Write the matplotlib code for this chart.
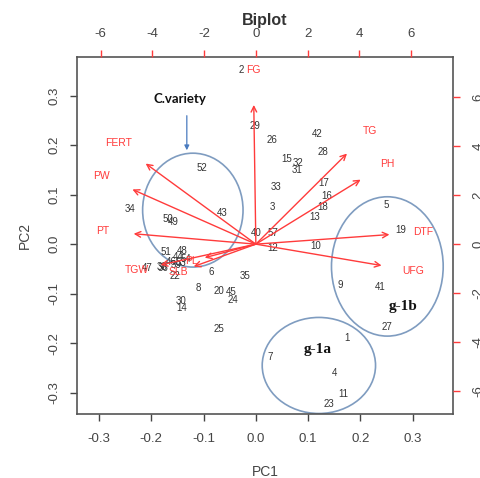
import matplotlib
matplotlib.use('Agg')
import matplotlib.pyplot as plt
from matplotlib.patches import Ellipse
import numpy as np

plt.rcParams['axes.unicode_minus'] = False

# ---- observation scores (PC1, PC2) ----
obs_labels = ['1', '2', '3', '4', '5', '6', '7', '8', '9', '10', '11', '12', '13', '14',
              '15', '16', '17', '18', '19', '20', '22', '23', '24', '25', '26', '27', '28',
              '29', '30', '31', '32', '33', '34', '35', '38', '40', '41', '42', '43', '44',
              '45', '47', '48', '49', '50', '51', '52', '57', '53', '46', '54', '39', '36']
pc1 = [0.175, -0.027, 0.032, 0.151, 0.250, -0.085, 0.028, -0.110, 0.162, 0.115, 0.168, 0.033,
       0.113, -0.142, 0.059, 0.135, 0.130, 0.128, 0.277, -0.070, -0.155, 0.140, -0.043, -0.070,
       0.030, 0.250, 0.128, -0.002, -0.143, 0.078, 0.081, 0.038, -0.241, -0.021, -0.180, 0.001,
       0.237, 0.117, -0.064, -0.149, -0.048, -0.208, -0.140, -0.157, -0.168, -0.172, -0.104,
       0.032, -0.143, -0.161, -0.134, -0.153, -0.178]
pc2 = [-0.190, 0.352, 0.075, -0.260, 0.079, -0.056, -0.228, -0.088, -0.083, -0.004, -0.303,
       -0.007, 0.055, -0.128, 0.171, 0.097, 0.123, 0.075, 0.028, -0.095, -0.065, -0.322, -0.113,
       -0.172, 0.210, -0.168, 0.186, 0.238, -0.115, 0.149, 0.164, 0.115, 0.070, -0.064, -0.046,
       0.022, -0.086, 0.222, 0.063, -0.026, -0.096, -0.048, -0.014, 0.044, 0.051, -0.016, 0.153,
       0.022, -0.038, -0.036, -0.030, -0.042, -0.048]

# ---- variable loadings (label positions, secondary axes units) ----
var_names = ['FG', 'TG', 'PH', 'DTF', 'UFG', 'FERT', 'PW', 'PT', 'TGW', 'SLB', 'PL']
var_x = [-0.1, 4.4, 5.06, 6.45, 6.07, -5.32, -5.96, -5.9, -4.6, -3.0, -2.47]
var_y = [7.1, 4.62, 3.29, 0.49, -1.09, 4.11, 2.79, 0.53, -1.06, -1.14, -0.69]

# ---- group ellipses ----
group_names = ['C.variety', 'g-1b', 'g-1a']
group_cx = [-0.1205, 0.2514, 0.1205]
group_cy = [0.0687, -0.045, -0.245]
group_w = [0.192, 0.2136, 0.2167]
group_h = [0.230, 0.2814, 0.194]

pc1_ticks = [-0.3, -0.2, -0.1, 0.0, 0.1, 0.2, 0.3]
pc2_ticks = [-0.3, -0.2, -0.1, 0.0, 0.1, 0.2, 0.3]
sec_ticks = [-6, -4, -2, 0, 2, 4, 6]

RED = '#ff3b3b'
BLUE = '#7f9cc0'
GREY = '#444444'
ratio = 20.2

fig = plt.figure(figsize=(4.8, 4.78), dpi=100)
pos = [0.1604, 0.1339, 0.7834, 0.7469]
ax = fig.add_axes(pos)
xlim = (-0.342, 0.377)
ylim = (-0.343, 0.378)
ax.set_xlim(*xlim)
ax.set_ylim(*ylim)
ax.set_xticks(pc1_ticks)
ax.set_xticklabels(['%.1f' % t for t in pc1_ticks])
ax.set_yticks(pc2_ticks)
ax.set_yticklabels(['%.1f' % t for t in pc2_ticks], rotation=90, va='center')
ax.tick_params(axis='x', length=5, width=1, color=GREY, labelsize=9.5, labelcolor=GREY, pad=9)
ax.tick_params(axis='y', length=5, width=1, color=GREY, labelsize=9.5, labelcolor=GREY, pad=7)
for s in ax.spines.values():
    s.set_color('#555555')
    s.set_linewidth(1.2)
ax.set_xlabel('PC1', fontsize=10, color=GREY, labelpad=14, family='Liberation Sans')
ax.set_ylabel('PC2', fontsize=10, color=GREY, labelpad=12, family='Liberation Sans')
for lab in ax.get_xticklabels() + ax.get_yticklabels():
    lab.set_family('Liberation Sans')

for lab, x, y in zip(obs_labels, pc1, pc2):
    ax.text(x, y, lab, fontsize=7, color='#333333', ha='center', va='center',
            family='Liberation Sans')

for cx, cy, w, h in zip(group_cx, group_cy, group_w, group_h):
    ax.add_patch(Ellipse((cx, cy), w, h, fill=False, edgecolor=BLUE, lw=1.2))

ax.text(-0.145, 0.293, group_names[0], fontsize=9.5, fontweight='bold', ha='center',
        va='center', family='Lato', color='#111111')
ax.annotate('', xy=(-0.132, 0.184), xytext=(-0.132, 0.265),
            arrowprops=dict(arrowstyle='-|>', color='#4a7bbf', lw=0.9, mutation_scale=7))
ax.text(0.282, -0.125, group_names[1], fontsize=11, fontweight='bold', ha='center',
        va='center', family='Liberation Serif', color='#111111')
ax.text(0.119, -0.213, group_names[2], fontsize=11, fontweight='bold', ha='center',
        va='center', family='Liberation Serif', color='#111111')

# secondary axes for variables
ax2 = fig.add_axes(pos, frameon=False)
ax2.patch.set_visible(False)
ax2.set_xlim(xlim[0] * ratio, xlim[1] * ratio)
ax2.set_ylim(ylim[0] * ratio, ylim[1] * ratio)
ax2.xaxis.tick_top()
ax2.yaxis.tick_right()
ax2.set_xticks(sec_ticks)
ax2.set_xticklabels([str(t) for t in sec_ticks])
ax2.set_yticks(sec_ticks)
ax2.set_yticklabels([str(t) for t in sec_ticks], rotation=90, va='center')
ax2.tick_params(axis='x', length=5, width=1, color=RED, labelsize=9.5, labelcolor=GREY, pad=7)
ax2.tick_params(axis='y', length=5, width=1, color=RED, labelsize=9.5, labelcolor=GREY, pad=9)
for lab in ax2.get_xticklabels() + ax2.get_yticklabels():
    lab.set_family('Liberation Sans')

for name, vx, vy in zip(var_names, var_x, var_y):
    ax2.annotate('', xy=(0.8 * vx, 0.8 * vy), xytext=(0, 0),
                 arrowprops=dict(arrowstyle='->', color=RED, lw=1.0,
                                 mutation_scale=10, shrinkA=0, shrinkB=0))
    ax2.text(vx, vy, name, fontsize=7.5, color=RED, ha='center', va='center',
             family='Liberation Sans')

fig.text(265 / 480, 1 - 20 / 478, 'Biplot', fontsize=11.5, fontweight='bold',
         ha='center', va='center', color='#333333', family='Liberation Sans')

fig.savefig('out.png', dpi=100)
